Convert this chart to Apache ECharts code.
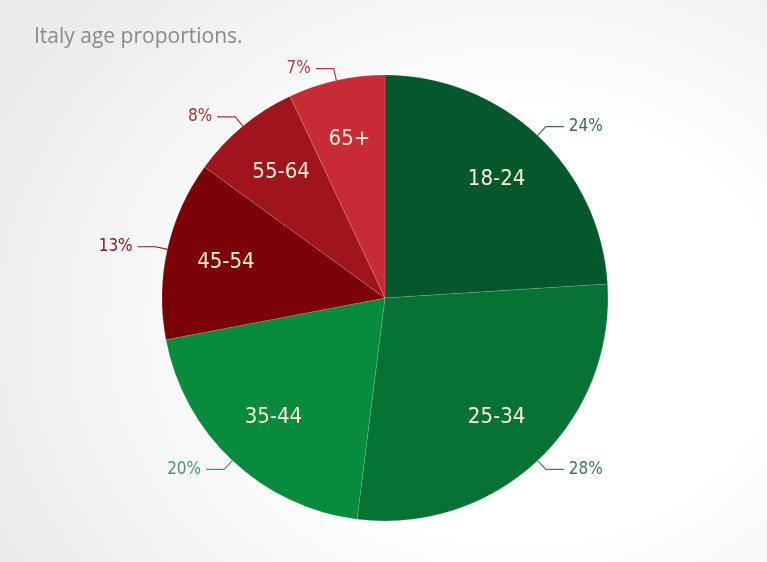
<!DOCTYPE html>
<html>
<head>
<meta charset="utf-8">
<script src="https://cdn.jsdelivr.net/npm/echarts@6/dist/echarts.min.js"></script>
<style>
  html, body { margin: 0; padding: 0; }
  body {
    width: 767px; height: 562px;
    background: radial-gradient(ellipse 75% 85% at 68% 58%, #ffffff 45%, #ebebeb 100%);
  }
  #chart { width: 767px; height: 562px; }
</style>
</head>
<body>
<div id="chart"></div>
<script>
const ageGroups = ['18-24', '25-34', '35-44', '45-54', '55-64', '65+']
const shares = [24, 28, 20, 13, 8, 7]
const sliceColors = ['#04582b', '#067334', '#078b3d', '#7b0307', '#a0141e', '#c92b36']
const pctColors = ['#406b57', '#437860', '#4a9470', '#871a20', '#a0323b', '#b33a42']

const chart = echarts.init(document.getElementById('chart'))
const narrow = '"DejaVu Sans Condensed", "Liberation Sans Narrow", Roboto, sans-serif'

const pieCenter = [385, 298]

const option = {
  title: {
    text: 'Italy age proportions.',
    left: 29,
    top: 22,
    textStyle: {
      fontFamily: '"Open Sans", "Noto Sans", sans-serif',
      fontWeight: 'normal',
      fontSize: 21,
      color: '#8a8a8a'
    }
  },
  series: [
    {
      // slices, percent labels outside
      type: 'pie',
      center: pieCenter,
      radius: [0, 223],
      startAngle: 90,
      clockwise: true,
      silent: true,
      animation: false,
      itemStyle: { borderColor: 'rgba(255,255,255,0.12)', borderWidth: 1 },
      label: {
        position: 'outside',
        fontFamily: narrow,
        fontSize: 17,
        formatter: p => p.value + '%'
      },
      labelLine: { length: 12, length2: 18, lineStyle: { width: 1.2 } },
      data: ageGroups.map((name, i) => ({
        name: name,
        value: shares[i],
        itemStyle: { color: sliceColors[i] },
        label: { color: pctColors[i] },
        labelLine: { lineStyle: { color: pctColors[i] } }
      }))
    },
    {
      // invisible ring, only used to put the group names further out
      type: 'pie',
      center: pieCenter,
      radius: [97, 223],
      startAngle: 90,
      clockwise: true,
      silent: true,
      animation: false,
      itemStyle: { color: 'rgba(0,0,0,0)' },
      label: {
        position: 'inside',
        fontFamily: narrow,
        fontSize: 22,
        color: '#f8f0dc',
        formatter: '{b}'
      },
      labelLine: { show: false },
      data: ageGroups.map((name, i) => ({ name: name, value: shares[i] }))
    }
  ]
}
chart.setOption(option)
</script>
</body>
</html>
